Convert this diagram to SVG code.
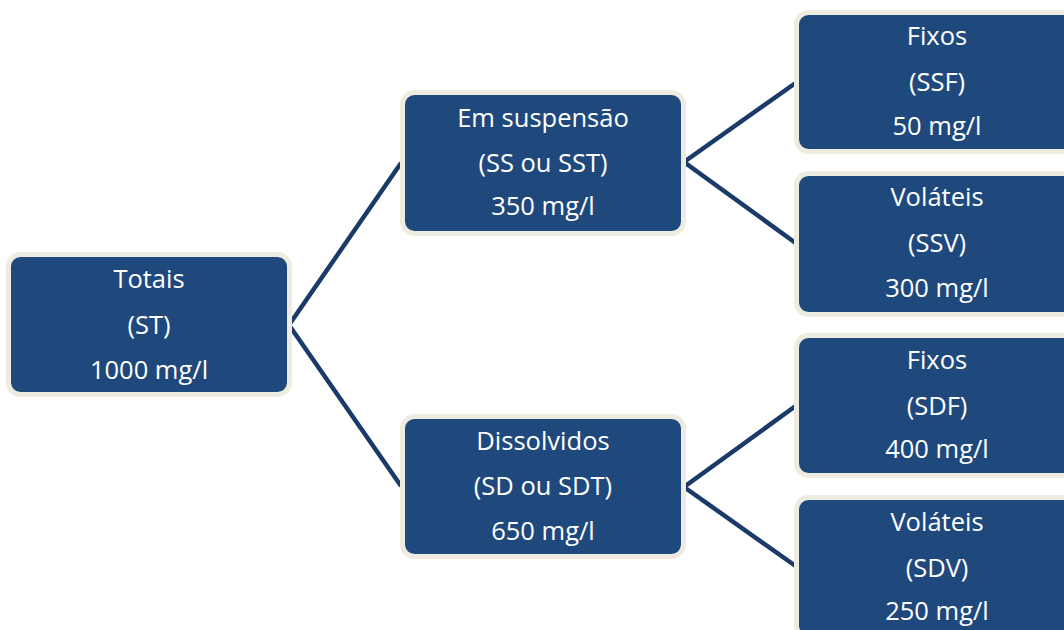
<svg xmlns="http://www.w3.org/2000/svg" width="1064" height="630" viewBox="0 0 1064 630">
<style>
.box{fill:#1F497D;stroke:#EEECE1;stroke-width:5}
.t{font-family:"Open Sans","Liberation Sans",sans-serif;font-size:25.5px;fill:#FFFFFF;text-anchor:middle}
.c{stroke:#1A3B69;stroke-width:4.5;fill:none;stroke-linejoin:miter}
</style>
<rect width="1064" height="630" fill="#FFFFFF"/>
<g id="connectors">
<polyline class="c" points="401,163 289,325 401,486"/>
<polyline class="c" points="797,82 684,162 797,244"/>
<polyline class="c" points="797,405 684,487 797,567"/>
</g>
<g id="totais">
<rect class="box" x="8.5" y="254.5" width="281" height="140" rx="12"/>
<text class="t" x="149" y="288">Totais</text>
<text class="t" x="149" y="334">(ST)</text>
<text class="t" x="149" y="379">1000 mg/l</text>
</g>
<g id="suspensao">
<rect class="box" x="402.5" y="92.5" width="281" height="141" rx="12"/>
<text class="t" x="543" y="127">Em suspensão</text>
<text class="t" x="543" y="172">(SS ou SST)</text>
<text class="t" x="543" y="215">350 mg/l</text>
</g>
<g id="dissolvidos">
<rect class="box" x="402.5" y="416.5" width="281" height="140" rx="12"/>
<text class="t" x="543" y="450">Dissolvidos</text>
<text class="t" x="543" y="495">(SD ou SDT)</text>
<text class="t" x="543" y="540">650 mg/l</text>
</g>
<g id="ssf">
<rect class="box" x="796.5" y="12.5" width="281" height="139" rx="12"/>
<text class="t" x="937" y="45">Fixos</text>
<text class="t" x="937" y="91">(SSF)</text>
<text class="t" x="937" y="135">50 mg/l</text>
</g>
<g id="ssv">
<rect class="box" x="796.5" y="173.5" width="281" height="141" rx="12"/>
<text class="t" x="937" y="206">Voláteis</text>
<text class="t" x="937" y="252">(SSV)</text>
<text class="t" x="937" y="297">300 mg/l</text>
</g>
<g id="sdf">
<rect class="box" x="796.5" y="335.5" width="281" height="140" rx="12"/>
<text class="t" x="937" y="369">Fixos</text>
<text class="t" x="937" y="415">(SDF)</text>
<text class="t" x="937" y="458">400 mg/l</text>
</g>
<g id="sdv">
<rect class="box" x="796.5" y="497.5" width="281" height="140" rx="12"/>
<text class="t" x="937" y="531">Voláteis</text>
<text class="t" x="937" y="577">(SDV)</text>
<text class="t" x="937" y="620">250 mg/l</text>
</g>
</svg>
